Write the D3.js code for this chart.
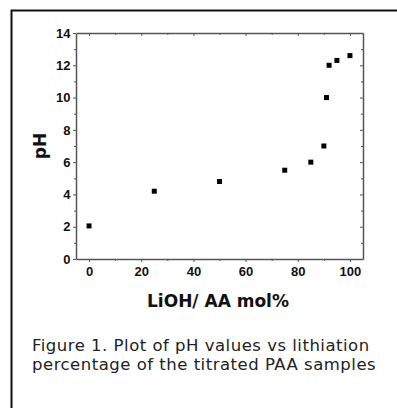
<!DOCTYPE html>
<html>
<head>
<meta charset="utf-8">
<script src="https://cdn.jsdelivr.net/npm/d3@7"></script>
<style>
  body { margin: 0; background: #fff; }
  svg text { font-family: "Liberation Sans", Arial, sans-serif; }
</style>
</head>
<body>
<div id="chart"></div>
<script>
// LiOH / AA mol% vs measured pH
const lithiation = [0, 25, 50, 75, 85, 90, 91, 92, 95, 100];
const phValues = [2.05, 4.2, 4.8, 5.5, 6.0, 7.0, 10.0, 12.0, 12.3, 12.6];
const xTicks = [0, 20, 40, 60, 80, 100];
const yTicks = [0, 2, 4, 6, 8, 10, 12, 14];
const captionLines = [
  'Figure 1. Plot of pH values vs lithiation',
  'percentage of the titrated PAA samples'
];

const width = 397;
const height = 408;
const margin = {left: 76, top: 33, right: 34, bottom: 149};
const axisColor = '#555';

const svg = d3.select('#chart')
  .append('svg')
    .attr('width', width)
    .attr('height', height);

// frame (only top and left edges are visible)
svg.append('path')
  .attr('d', `M11.5,${height} V10.5 H${width}`)
  .attr('fill', 'none')
  .attr('stroke', '#111')
  .attr('stroke-width', 2);

const x = d3.scaleLinear()
  .domain([-5, 105])
  .range([margin.left, width - margin.right]);

const y = d3.scaleLinear()
  .domain([0, 14])
  .range([height - margin.bottom, margin.top]);

const minorX = d3.range(10, 100, 20);
const minorY = d3.range(1, 14, 2);

const styleAxis = g => {
  g.select('.domain').attr('stroke', axisColor).attr('stroke-width', 1.5);
  g.selectAll('.tick line').attr('stroke', axisColor);
};

// bottom axis
const gx = svg.append('g')
  .attr('transform', `translate(0,${y(0)})`)
  .call(d3.axisBottom(x).tickValues(xTicks).tickSize(3).tickPadding(5).tickSizeOuter(0))
  .call(styleAxis);
gx.selectAll('text')
  .attr('font-size', 13).attr('font-weight', 'bold').attr('fill', '#111');

svg.append('g')
  .attr('transform', `translate(0,${y(0)})`)
  .call(d3.axisBottom(x).tickValues(minorX).tickSize(2).tickFormat(''))
  .call(g => g.select('.domain').remove())
  .call(styleAxis);

// left axis
const gy = svg.append('g')
  .attr('transform', `translate(${x(-5)},0)`)
  .call(d3.axisLeft(y).tickValues(yTicks).tickSize(3).tickPadding(2.5).tickSizeOuter(0))
  .call(styleAxis);
gy.selectAll('text')
  .attr('font-size', 13).attr('font-weight', 'bold').attr('fill', '#111');

svg.append('g')
  .attr('transform', `translate(${x(-5)},0)`)
  .call(d3.axisLeft(y).tickValues(minorY).tickSize(2).tickFormat(''))
  .call(g => g.select('.domain').remove())
  .call(styleAxis);

// top axis, ticks pointing in
svg.append('g')
  .attr('transform', `translate(0,${y(14)})`)
  .call(d3.axisBottom(x).tickValues(xTicks).tickSize(3).tickFormat('').tickSizeOuter(0))
  .call(styleAxis);
svg.append('g')
  .attr('transform', `translate(0,${y(14)})`)
  .call(d3.axisBottom(x).tickValues(minorX).tickSize(2).tickFormat(''))
  .call(g => g.select('.domain').remove())
  .call(styleAxis);

// right axis, ticks pointing in
svg.append('g')
  .attr('transform', `translate(${x(105)},0)`)
  .call(d3.axisLeft(y).tickValues(yTicks).tickSize(3).tickFormat('').tickSizeOuter(0))
  .call(styleAxis);
svg.append('g')
  .attr('transform', `translate(${x(105)},0)`)
  .call(d3.axisLeft(y).tickValues(minorY).tickSize(2).tickFormat(''))
  .call(g => g.select('.domain').remove())
  .call(styleAxis);

// points
const size = 5;
svg.append('g')
  .selectAll('rect')
  .data(lithiation)
  .join('rect')
    .attr('x', d => x(d) - size / 2)
    .attr('y', (d, i) => y(phValues[i]) - size / 2)
    .attr('width', size)
    .attr('height', size)
    .attr('fill', '#000');

// axis titles
svg.append('text')
  .attr('x', 218)
  .attr('y', 307)
  .attr('text-anchor', 'middle')
  .attr('font-size', 17)
  .attr('font-weight', 'bold')
  .attr('fill', '#111')
  .style('font-family', '"DejaVu Sans", sans-serif')
  .text('LiOH/ AA mol%');

svg.append('text')
  .attr('transform', `translate(46,${y(7)}) rotate(-90)`)
  .attr('text-anchor', 'middle')
  .attr('font-size', 17)
  .attr('font-weight', 'bold')
  .attr('fill', '#111')
  .style('font-family', '"DejaVu Sans", sans-serif')
  .text('pH');

// caption
svg.append('g')
  .selectAll('text')
  .data(captionLines)
  .join('text')
    .attr('x', 32)
    .attr('y', (d, i) => 351 + i * 18.5)
    .attr('font-size', 16.5)
    .attr('letter-spacing', 0.5)
    .attr('fill', '#222')
    .style('font-family', '"DejaVu Sans", sans-serif')
    .text(d => d);
</script>
</body>
</html>
